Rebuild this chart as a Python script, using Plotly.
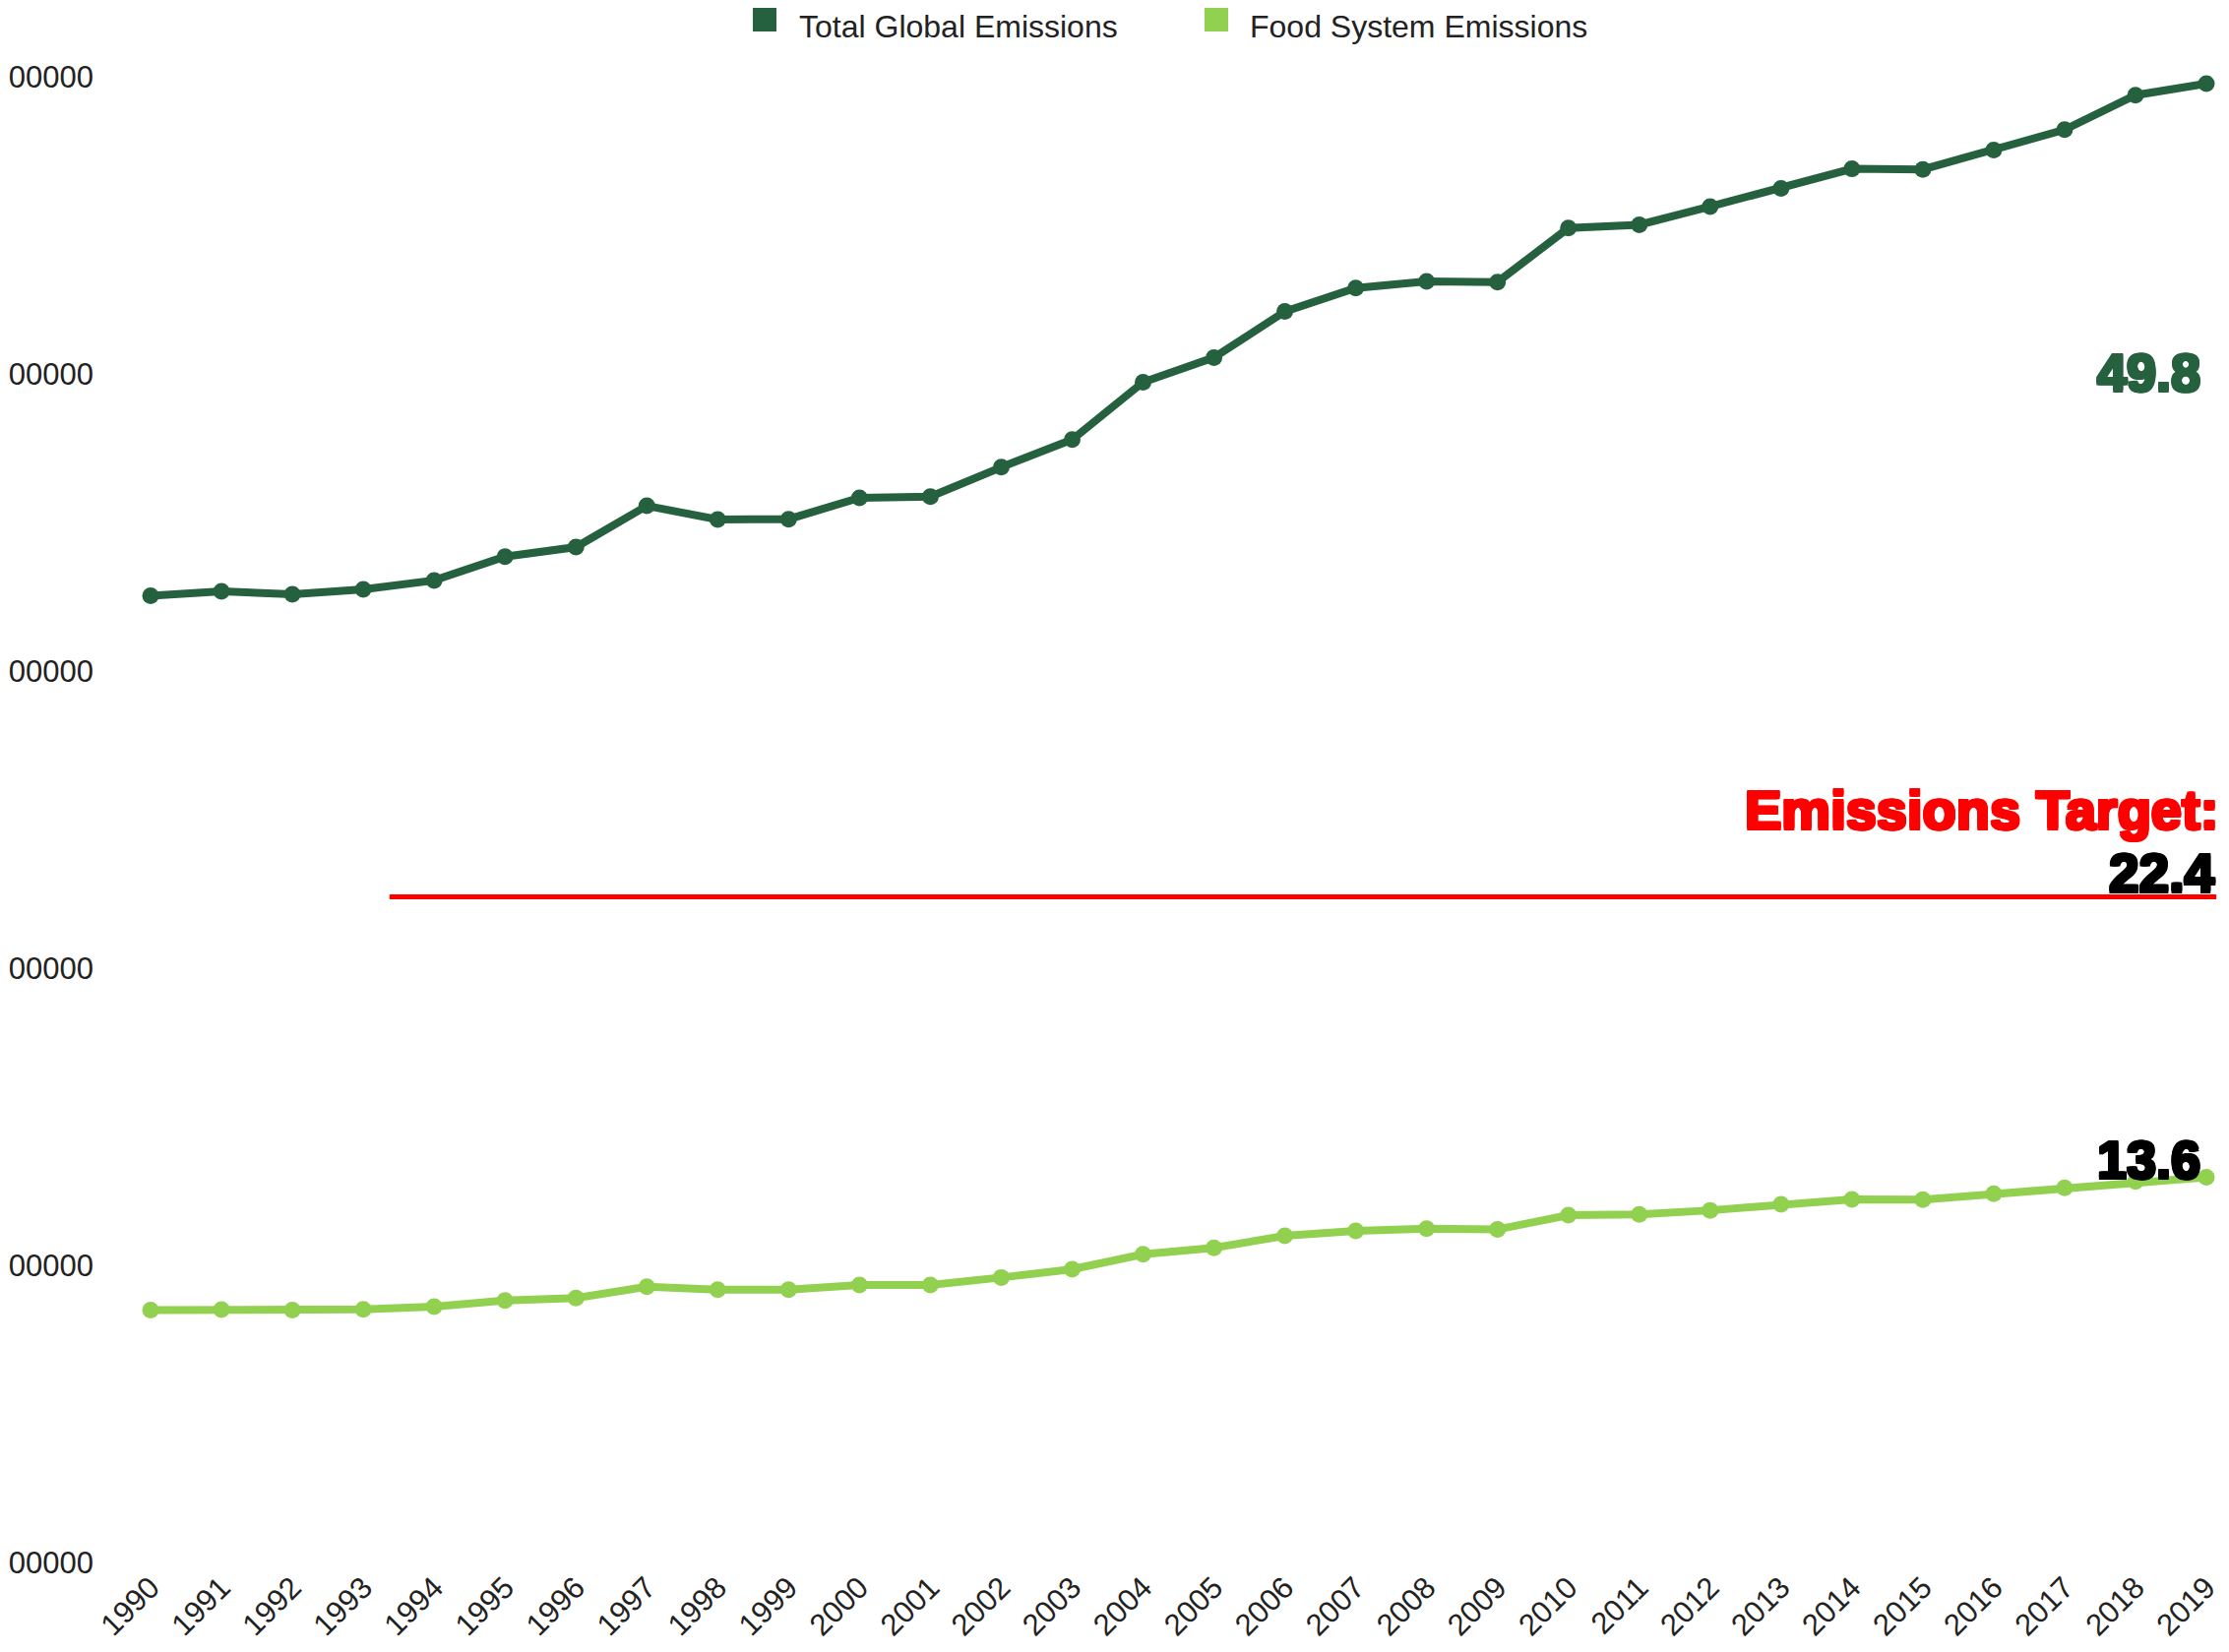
import plotly.graph_objects as go

years = list(range(1990, 2020))
total_emissions = [32.53, 32.68, 32.58, 32.75, 33.05, 33.85, 34.17, 35.56, 35.10, 35.11,
                   35.83, 35.87, 36.86, 37.79, 39.72, 40.55, 42.10, 42.89, 43.11, 43.09,
                   44.91, 45.02, 45.63, 46.24, 46.90, 46.88, 47.53, 48.22, 49.38, 49.77]
food_emissions = [8.49, 8.51, 8.49, 8.52, 8.61, 8.82, 8.90, 9.28, 9.18, 9.18,
                  9.34, 9.34, 9.59, 9.87, 10.37, 10.59, 10.99, 11.16, 11.23, 11.21,
                  11.69, 11.71, 11.85, 12.05, 12.22, 12.21, 12.41, 12.61, 12.82, 12.96]
target_value = 22.4
food_label = "13.6"
y_tickvals = [0, 10, 20, 30, 40, 50]
y_ticktext = ["00000", "00000", "00000", "00000", "00000", "00000"]
series_names = ["Total Global Emissions", "Food System Emissions"]

DARK = "#26613F"
LIGHT = "#92D050"
TXT = "#222222"
FONT = "Liberation Sans, Arial, sans-serif"

# figure geometry (page has an 8px body margin)
W, H = 2257, 1671
ML, MR, MT, MB = 92, 0, 70, 91
PW = W - ML - MR
PH = H - MT - MB

def px_x(xf):
    return (xf - ML) / PW

def px_y(yf):
    return (H - MB - yf) / PH

fig = go.Figure()
for name, vals, col in [(series_names[0], total_emissions, DARK), (series_names[1], food_emissions, LIGHT)]:
    fig.add_trace(go.Scatter(x=years, y=vals, mode="lines+markers", name=name,
                             line=dict(color=col, width=8),
                             marker=dict(color=col, size=17),
                             cliponaxis=False, showlegend=False))

# manual legend (square swatches)
legend_items = [(series_names[0], DARK, 757, 803), (series_names[1], LIGHT, 1216, 1261)]
for name, col, sx, tx in legend_items:
    fig.add_shape(type="rect", xref="paper", yref="paper",
                  x0=px_x(sx), x1=px_x(sx + 24), y0=px_y(24), y1=px_y(0),
                  fillcolor=col, line=dict(width=0))
    fig.add_annotation(x=px_x(tx), y=px_y(0), xref="paper", yref="paper", text=name,
                       showarrow=False, xanchor="left", yanchor="top", borderpad=0,
                       font=dict(family=FONT, size=32, color=TXT))

# target line
fig.add_shape(type="line", xref="x", yref="y", x0=1993.37, x1=2019.14,
              y0=target_value, y1=target_value, line=dict(color="#ff0000", width=5))

def heavy(color, size=54):
    d = 1.5
    parts = []
    for dx, dy in [(d, 0), (-d, 0), (0, d), (0, -d), (d, d), (-d, -d), (d, -d), (-d, d)]:
        parts.append(f"{dx}px {dy}px 0 {color}")
    return dict(family=FONT, size=size, color=color, weight=700, shadow=", ".join(parts))

fig.add_annotation(x=2019.19, y=25.35, xref="x", yref="y", text="Emissions Target:",
                   showarrow=False, xanchor="right", yanchor="middle", font=heavy("#ff0000", 56))
fig.add_annotation(x=2019.14, y=23.21, xref="x", yref="y", text=f"{target_value}",
                   showarrow=False, xanchor="right", yanchor="middle", font=heavy("#000000", 55))
fig.add_annotation(x=2018.95, y=40.08, xref="x", yref="y", text=f"{total_emissions[-1]:.1f}",
                   showarrow=False, xanchor="right", yanchor="middle", font=heavy(DARK))
fig.add_annotation(x=2018.95, y=13.59, xref="x", yref="y", text=food_label,
                   showarrow=False, xanchor="right", yanchor="middle", font=heavy("#000000"))

fig.update_layout(
    width=W, height=H,
    margin=dict(l=ML, r=MR, t=MT, b=MB, autoexpand=False),
    paper_bgcolor="white", plot_bgcolor="white",
    font=dict(family=FONT, size=31, color=TXT),
    showlegend=False,
    xaxis=dict(range=[1989.264, 2019.319], tickvals=years, ticktext=[str(y) for y in years],
               tickangle=-45, showgrid=False, zeroline=False, showline=False, ticks="",
               automargin=False, tickfont=dict(size=31, color=TXT)),
    yaxis=dict(range=[0, 50], tickvals=y_tickvals, ticktext=y_ticktext,
               showgrid=False, zeroline=False, showline=False, ticks="",
               automargin=False, ticklabelstandoff=4,
               tickfont=dict(size=31, color=TXT)),
)

fig.write_html("out.html")
